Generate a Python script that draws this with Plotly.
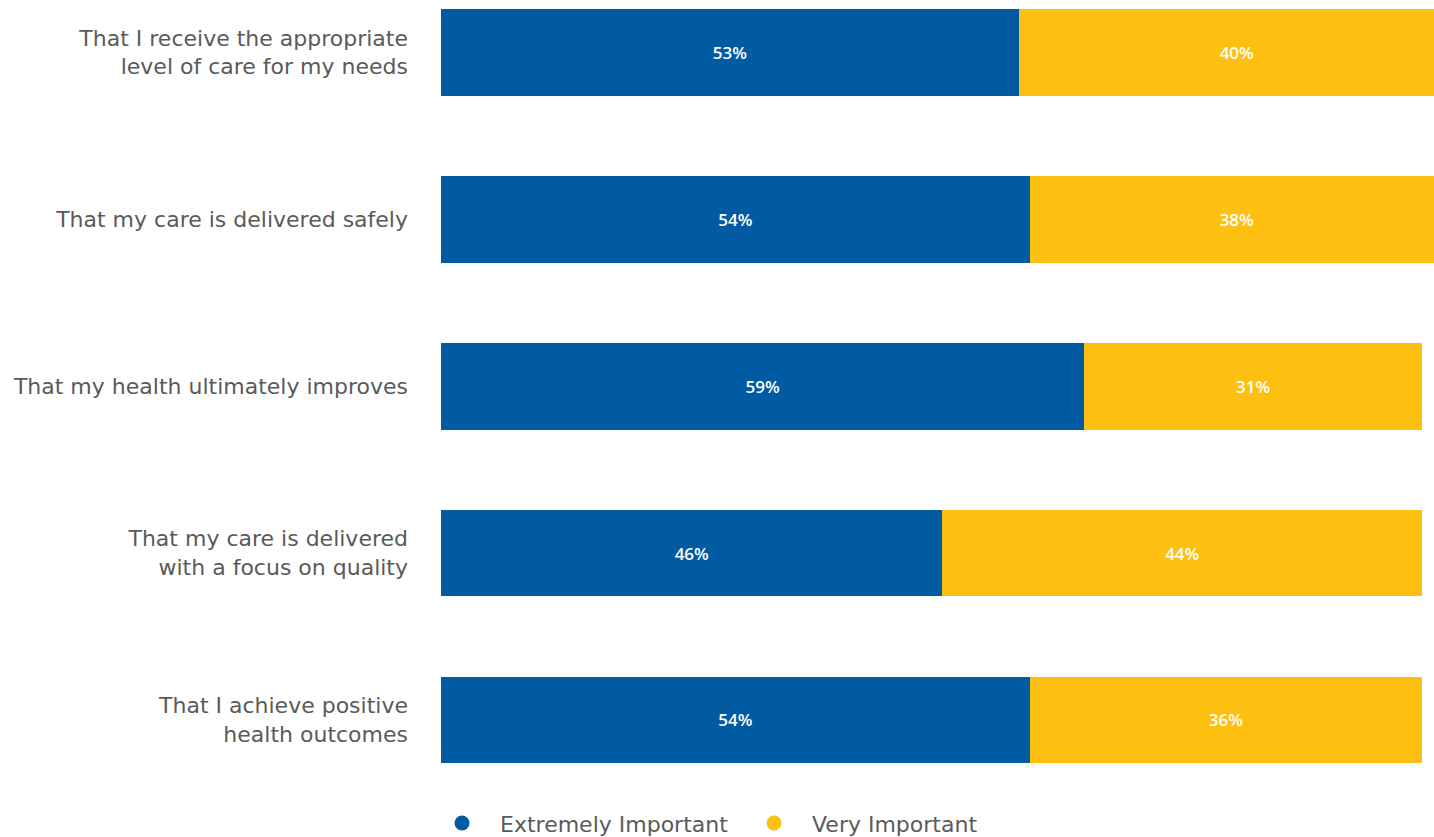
import plotly.graph_objects as go

categories = [
    "That I receive the appropriate<br>level of care for my needs",
    "That my care is delivered safely",
    "That my health ultimately improves",
    "That my care is delivered<br>with a focus on quality",
    "That I achieve positive<br>health outcomes",
]
extremely = [53, 54, 59, 46, 54]
very = [40, 38, 31, 44, 36]
series_names = ["Extremely Important", "Very Important"]
colors = ["#005BA3", "#FDC010"]

ypos = list(range(len(categories)))
FONT = "'DejaVu Sans', 'Open Sans', sans-serif"
LBLFONT = "'Open Sans', sans-serif"

fig = go.Figure()
for name, vals, col in zip(series_names, [extremely, very], colors):
    fig.add_trace(go.Bar(
        y=ypos, x=vals, orientation="h", name=name,
        marker=dict(color=col, line=dict(width=0)),
        width=0.52,
        text=[f"{v}%" for v in vals],
        textposition="inside", insidetextanchor="middle",
        textfont=dict(color="white", size=17, family=LBLFONT, weight=600),
        showlegend=False, hoverinfo="skip",
    ))
    fig.add_trace(go.Scatter(
        x=[None], y=[None], mode="markers", name=name,
        marker=dict(color=col, size=15, symbol="circle"),
    ))

fig.update_layout(
    barmode="stack",
    width=1434, height=837,
    margin=dict(l=441, r=0, t=0, b=67, autoexpand=False),
    plot_bgcolor="white", paper_bgcolor="white",
    font=dict(family=FONT, color="#5a5a5a", size=22),
    xaxis=dict(range=[0, 91.1], visible=False, showgrid=False, zeroline=False),
    yaxis=dict(
        tickvals=ypos, ticktext=categories, range=[4.3, -0.314],
        showgrid=False, zeroline=False, showline=False,
        ticks="", ticklabelstandoff=32,
        tickfont=dict(size=22, color="#5a5a5a", family=FONT),
    ),
    legend=dict(
        orientation="h", traceorder="normal",
        x=-0.0171, xanchor="left", y=-0.069, yanchor="middle",
        font=dict(size=22, color="#5a5a5a", family=FONT),
        entrywidth=231, entrywidthmode="pixels",
        itemwidth=66,
    ),
)

fig.write_html(
    "out.html",
    config={"displayModeBar": False},
    post_script="document.body.style.margin='0';document.body.style.overflow='hidden';",
)
